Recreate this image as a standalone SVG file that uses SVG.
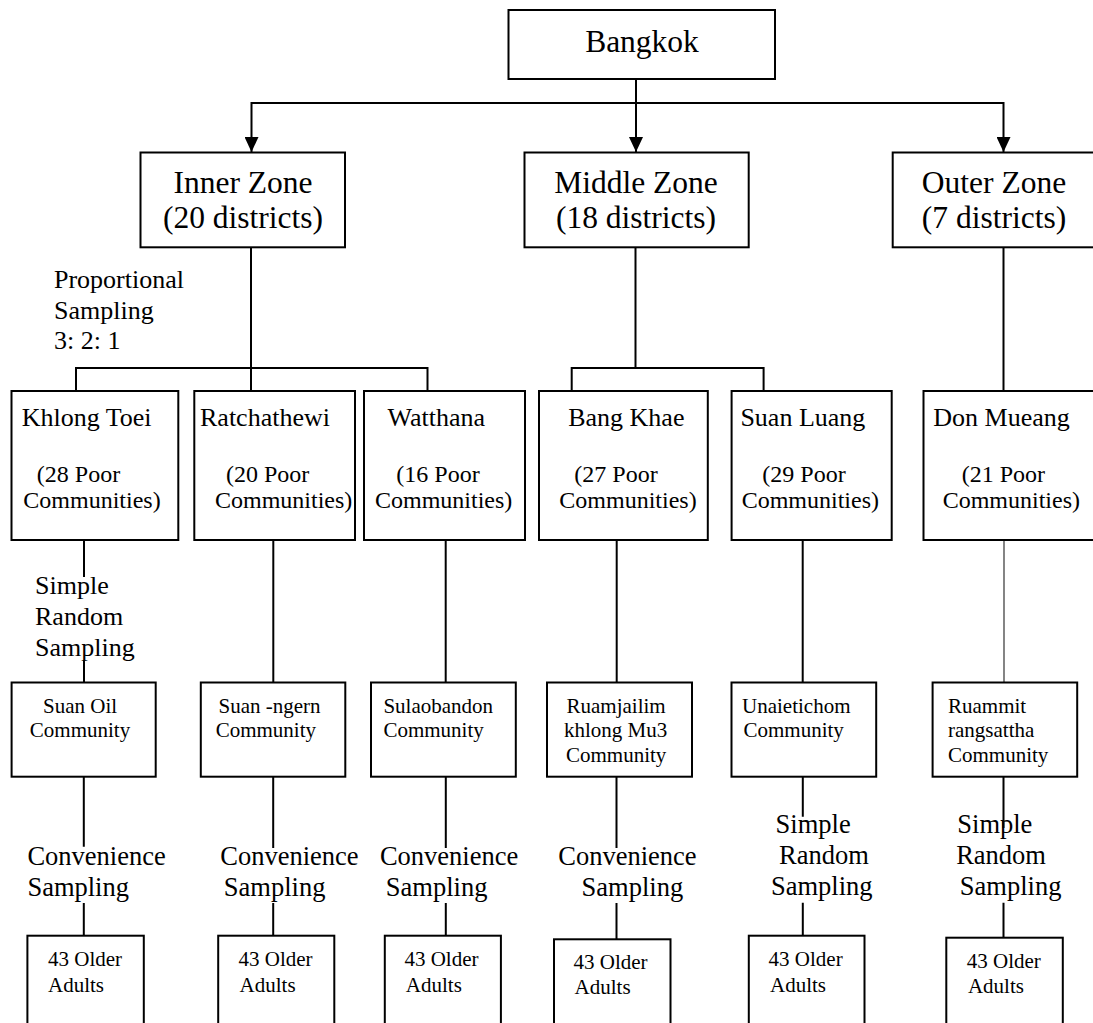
<svg xmlns="http://www.w3.org/2000/svg" width="1093" height="1023" viewBox="0 0 1093 1023">
<style>
.box{fill:#fff;stroke:#000;stroke-width:2}
.ln{fill:none;stroke:#000;stroke-width:2}
.thin{fill:none;stroke:#333;stroke-width:1.2}
text{font-family:"Liberation Serif","Times New Roman",serif;fill:#000}
.t1{font-size:31.5px;text-anchor:middle}
.t2{font-size:26px}
.t3{font-size:24px}
.t4{font-size:21px}
.t5{font-size:26.5px}
</style>
<defs>
<marker id="arr" markerUnits="userSpaceOnUse" markerWidth="15" markerHeight="14" viewBox="0 0 15 14" refX="15" refY="7" orient="auto">
<path d="M0,0 L15,7 L0,14 Z" fill="#000"/>
</marker>
</defs>
<rect width="1093" height="1023" fill="#fff"/>
<g id="connectors">
<path class="ln" d="M636,79 V152" marker-end="url(#arr)"/>
<path class="ln" d="M636,103 H251.5 V152" marker-end="url(#arr)"/>
<path class="ln" d="M636,103 H1003.5 V152" marker-end="url(#arr)"/>
<path class="ln" d="M251,247 V391"/>
<path class="ln" d="M76,391 V368 H427.5 V391"/>
<path class="ln" d="M635.5,247 V368"/>
<path class="ln" d="M571.7,391 V368 H763.6 V391"/>
<path class="ln" d="M1003.5,247 V391"/>
<path class="ln" d="M84,540 V577"/>
<path class="ln" d="M84,660 V682.5"/>
<path class="ln" d="M273.3,540 V682.5"/>
<path class="ln" d="M445.7,540 V682.5"/>
<path class="ln" d="M616.7,540 V682.5"/>
<path class="ln" d="M802.7,540 V682.5"/>
<path class="thin" d="M1004,540 V682.5"/>
<path class="ln" d="M83.8,776.7 V846.7 M83.8,903 V935.7"/>
<path class="ln" d="M273.2,776.7 V848 M273.2,903 V935.7"/>
<path class="ln" d="M445.8,776.7 V848 M445.8,903 V935.7"/>
<path class="ln" d="M616.5,776.7 V848 M616.5,903 V939.3"/>
<path class="ln" d="M802.8,776.7 V816.7 M802.8,902.7 V935.7"/>
<path class="ln" d="M1003.5,776.7 V828 M1003.5,902.7 V937.7"/>
</g>
<g id="bangkok"><rect class="box" x="508.5" y="10" width="266.5" height="69"/><text class="t1" x="642" y="52">Bangkok</text></g>
<g id="inner-zone"><rect class="box" x="140.5" y="152.5" width="204.5" height="94.8"/><text class="t1" x="243" y="193">Inner Zone</text><text class="t1" x="243" y="228">(20 districts)</text></g>
<g id="middle-zone"><rect class="box" x="524.5" y="152.5" width="224.2" height="94.8"/><text class="t1" x="636" y="193">Middle Zone</text><text class="t1" x="636" y="228">(18 districts)</text></g>
<g id="outer-zone"><rect class="box" x="892.7" y="152.5" width="203" height="94.8"/><text class="t1" x="994" y="193">Outer Zone</text><text class="t1" x="994" y="228">(7 districts)</text></g>
<g id="proportional-label"><text class="t2" x="54" y="288">Proportional</text><text class="t2" x="54" y="318.5">Sampling</text><text class="t2" x="54" y="349">3: 2: 1</text></g>
<g id="khlong-toei"><rect class="box" x="11.5" y="391" width="166.8" height="149"/><text class="t2" x="21.7" y="426">Khlong Toei</text><text class="t3" x="36.8" y="482">(28 Poor</text><text class="t3" x="23.3" y="508">Communities)</text></g>
<g id="ratchathewi"><rect class="box" x="194.3" y="391" width="160.7" height="149"/><text class="t2" x="200" y="426">Ratchathewi</text><text class="t3" x="226" y="482">(20 Poor</text><text class="t3" x="215" y="508">Communities)</text></g>
<g id="watthana"><rect class="box" x="364" y="391" width="161" height="149"/><text class="t2" x="387.6" y="426">Watthana</text><text class="t3" x="396.3" y="482">(16 Poor</text><text class="t3" x="375" y="508">Communities)</text></g>
<g id="bang-khae"><rect class="box" x="539" y="391" width="168.8" height="149"/><text class="t2" x="568.2" y="426">Bang Khae</text><text class="t3" x="574.3" y="482">(27 Poor</text><text class="t3" x="559.3" y="508">Communities)</text></g>
<g id="suan-luang"><rect class="box" x="731.6" y="391" width="160.1" height="149"/><text class="t2" x="740.4" y="426">Suan Luang</text><text class="t3" x="762.3" y="482">(29 Poor</text><text class="t3" x="741.7" y="508">Communities)</text></g>
<g id="don-mueang"><rect class="box" x="923.5" y="391" width="172.5" height="149"/><text class="t2" x="933.3" y="426">Don Mueang</text><text class="t3" x="961.7" y="482">(21 Poor</text><text class="t3" x="942.7" y="508">Communities)</text></g>
<g id="srs-label-1"><text class="t2" x="35" y="594">Simple</text><text class="t2" x="35" y="625">Random</text><text class="t2" x="35" y="656">Sampling</text></g>
<g id="suan-oil"><rect class="box" x="11.6" y="682.5" width="144.1" height="94.2"/><text class="t4" x="43.1" y="712.7">Suan Oil</text><text class="t4" x="29.8" y="737.3">Community</text></g>
<g id="suan-ngern"><rect class="box" x="200.8" y="682.5" width="144.5" height="94.2"/><text class="t4" x="218.5" y="712.7">Suan -ngern</text><text class="t4" x="215.7" y="737.3">Community</text></g>
<g id="sulaobandon"><rect class="box" x="371" y="682.5" width="144.8" height="94.2"/><text class="t4" x="383.4" y="712.7">Sulaobandon</text><text class="t4" x="383.4" y="737.3">Community</text></g>
<g id="ruamjailim"><rect class="box" x="547" y="682.5" width="145" height="94.2"/><text class="t4" x="566.5" y="712.7">Ruamjailim</text><text class="t4" x="564" y="737">khlong Mu3</text><text class="t4" x="566" y="761.5">Community</text></g>
<g id="unaietichom"><rect class="box" x="731.5" y="682.5" width="144.7" height="94.2"/><text class="t4" x="742" y="712.7">Unaietichom</text><text class="t4" x="743.5" y="737.3">Community</text></g>
<g id="ruammit"><rect class="box" x="932.6" y="682.5" width="144.6" height="94.2"/><text class="t4" x="948" y="712.7">Ruammit</text><text class="t4" x="948" y="737">rangsattha</text><text class="t4" x="948" y="761.5">Community</text></g>
<g id="conv-1"><text class="t5" x="27.4" y="865">Convenience</text><text class="t5" x="27.4" y="896">Sampling</text></g>
<g id="conv-2"><text class="t5" x="220.3" y="865">Convenience</text><text class="t5" x="223.8" y="896">Sampling</text></g>
<g id="conv-3"><text class="t5" x="379.9" y="865">Convenience</text><text class="t5" x="385.8" y="896">Sampling</text></g>
<g id="conv-4"><text class="t5" x="558.3" y="865">Convenience</text><text class="t5" x="581.6" y="896">Sampling</text></g>
<g id="srs-label-5"><text class="t5" x="775.6" y="833.3">Simple</text><text class="t5" x="779" y="864.3">Random</text><text class="t5" x="771" y="895">Sampling</text></g>
<g id="srs-label-6"><text class="t5" x="957.3" y="833.3">Simple</text><text class="t5" x="956.2" y="864.3">Random</text><text class="t5" x="959.8" y="895">Sampling</text></g>
<g id="adults-1"><rect class="box" x="27.4" y="935.7" width="116.4" height="100"/><text class="t4" x="48" y="966">43 Older</text><text class="t4" x="48" y="991.7">Adults</text></g>
<g id="adults-2"><rect class="box" x="218.2" y="935.7" width="116.1" height="100"/><text class="t4" x="238.5" y="966">43 Older</text><text class="t4" x="239.6" y="991.7">Adults</text></g>
<g id="adults-3"><rect class="box" x="384.8" y="935.7" width="116.1" height="100"/><text class="t4" x="404.4" y="966">43 Older</text><text class="t4" x="405.8" y="991.7">Adults</text></g>
<g id="adults-4"><rect class="box" x="554" y="939.3" width="116.5" height="100"/><text class="t4" x="573.5" y="969.3">43 Older</text><text class="t4" x="574.6" y="994.3">Adults</text></g>
<g id="adults-5"><rect class="box" x="748.8" y="935.7" width="115.7" height="100"/><text class="t4" x="768.6" y="966">43 Older</text><text class="t4" x="770" y="991.7">Adults</text></g>
<g id="adults-6"><rect class="box" x="946.3" y="937.7" width="116.5" height="100"/><text class="t4" x="966.8" y="968.3">43 Older</text><text class="t4" x="967.9" y="993.3">Adults</text></g>
</svg>
